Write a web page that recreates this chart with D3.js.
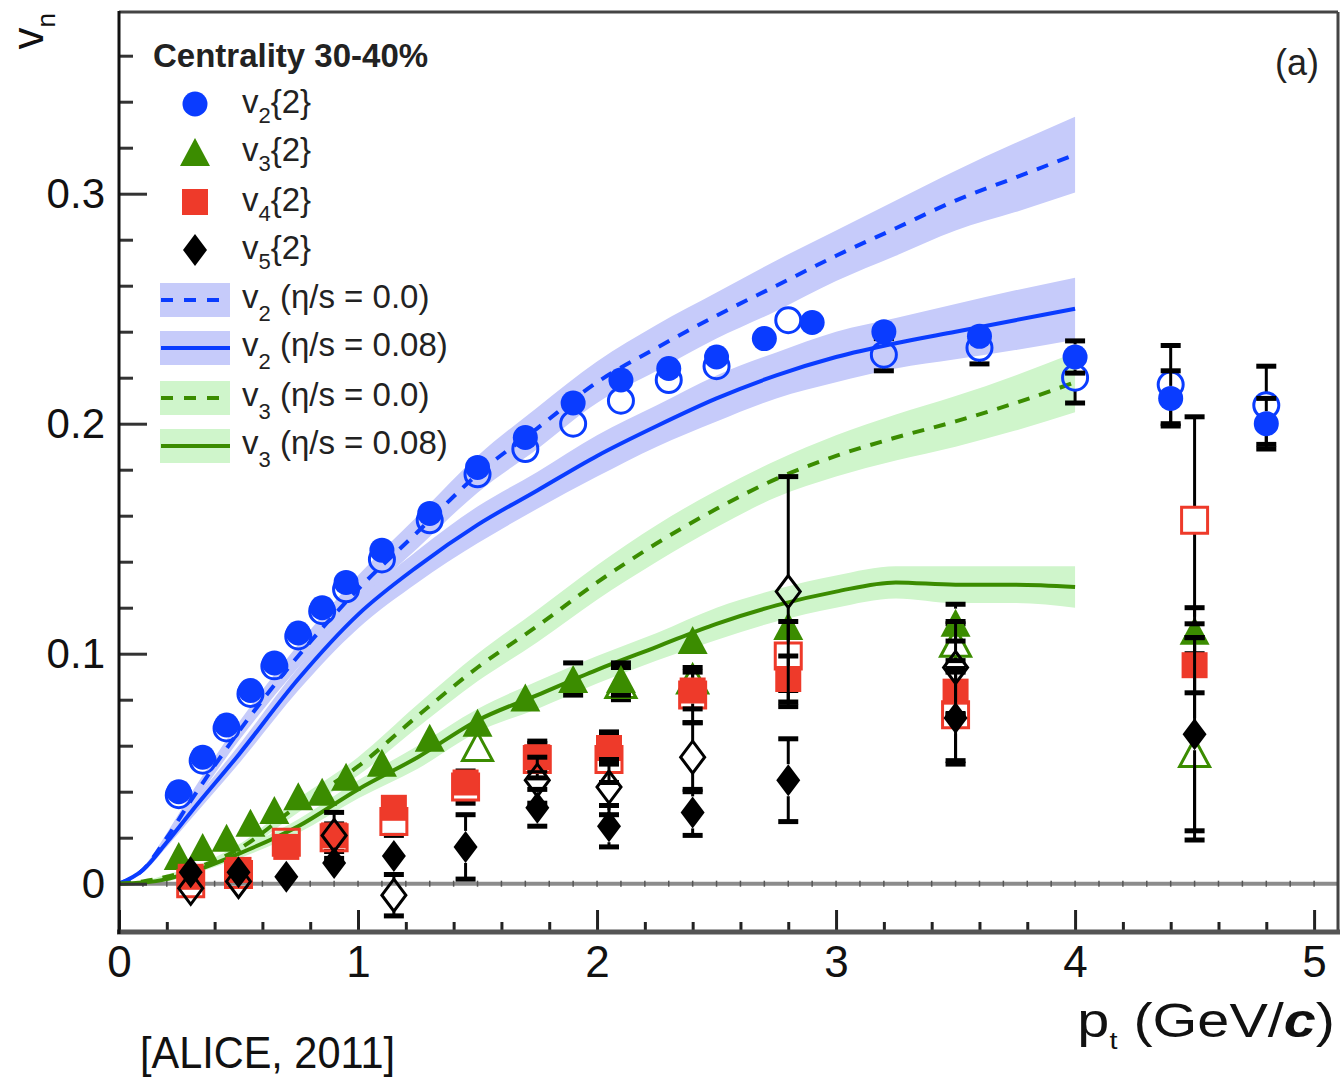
<!DOCTYPE html>
<html>
<head>
<meta charset="utf-8">
<script src="https://cdn.jsdelivr.net/npm/d3@7"></script>
<style>
  body { margin: 0; background: #fff; }
  svg { display: block; font-family: "Liberation Sans", Arial, sans-serif; }
</style>
</head>
<body>
<div id="chart"></div>
<script>
// hydro model curves (eta/s = 0.0 and 0.08), pt grid shared by all four
const modelPt     = [0, 0.1, 0.2, 0.3, 0.5, 0.75, 1.0, 1.25, 1.5, 1.75, 2.0, 2.25, 2.5, 2.75, 3.0, 3.25, 3.5, 3.75, 4.0];
const v2Ideal     = [0, 0.006, 0.02, 0.036, 0.066, 0.099, 0.128, 0.153, 0.178, 0.198, 0.218, 0.233, 0.247, 0.260, 0.273, 0.285, 0.297, 0.307, 0.317];
const v2IdealBand = [0, 0.001, 0.002, 0.003, 0.004, 0.005, 0.006, 0.007, 0.008, 0.009, 0.009, 0.010, 0.010, 0.011, 0.011, 0.012, 0.013, 0.015, 0.0165];
const v2Visc      = [0, 0.006, 0.018, 0.031, 0.056, 0.089, 0.117, 0.138, 0.156, 0.171, 0.186, 0.199, 0.211, 0.221, 0.229, 0.235, 0.240, 0.245, 0.250];
const v2ViscBand  = [0, 0.001, 0.002, 0.003, 0.004, 0.005, 0.006, 0.007, 0.008, 0.008, 0.009, 0.009, 0.010, 0.010, 0.011, 0.011, 0.012, 0.013, 0.0135];
const v3Ideal     = [0, 0.001, 0.003, 0.006, 0.015, 0.034, 0.051, 0.073, 0.094, 0.112, 0.131, 0.148, 0.163, 0.176, 0.186, 0.194, 0.201, 0.209, 0.218];
const v3IdealBand = [0, 0, 0.001, 0.001, 0.002, 0.003, 0.004, 0.005, 0.006, 0.007, 0.0075, 0.008, 0.008, 0.008, 0.009, 0.010, 0.011, 0.012, 0.013];
const v3Visc      = [0, 0.0005, 0.002, 0.005, 0.013, 0.025, 0.041, 0.055, 0.071, 0.082, 0.093, 0.103, 0.113, 0.121, 0.127, 0.131, 0.130, 0.130, 0.129];
const v3ViscBand  = [0, 0, 0.001, 0.001, 0.002, 0.003, 0.004, 0.005, 0.005, 0.006, 0.006, 0.006, 0.007, 0.007, 0.007, 0.007, 0.008, 0.008, 0.009];

// measured points: [pt, vn, error]
const v2Full = [[0.25,0.040,0.001],[0.35,0.055,0.001],[0.45,0.069,0.001],[0.55,0.084,0.001],[0.65,0.096,0.001],[0.75,0.109,0.001],[0.85,0.120,0.001],[0.95,0.131,0.001],[1.1,0.145,0.001],[1.3,0.161,0.001],[1.5,0.181,0.002],[1.7,0.194,0.002],[1.9,0.209,0.002],[2.1,0.219,0.002],[2.3,0.224,0.002],[2.5,0.229,0.002],[2.7,0.237,0.002],[2.9,0.244,0.003],[3.2,0.240,0.004],[3.6,0.238,0.005],[4.0,0.229,0.007],[4.4,0.211,0.012],[4.8,0.200,0.011]];
const v2Open = [[0.25,0.0385,0.001],[0.35,0.0535,0.001],[0.45,0.0675,0.001],[0.55,0.0825,0.001],[0.65,0.0945,0.001],[0.75,0.1075,0.001],[0.85,0.1185,0.001],[0.95,0.128,0.001],[1.1,0.141,0.001],[1.3,0.158,0.002],[1.5,0.178,0.002],[1.7,0.189,0.002],[1.9,0.200,0.003],[2.1,0.210,0.003],[2.3,0.219,0.003],[2.5,0.225,0.003],[2.8,0.245,0.004],[3.2,0.230,0.007],[3.6,0.233,0.007],[4.0,0.220,0.011],[4.4,0.217,0.017],[4.8,0.208,0.017]];
const v3Full = [[0.25,0.012,0.001],[0.35,0.016,0.001],[0.45,0.020,0.001],[0.55,0.0265,0.001],[0.65,0.032,0.001],[0.75,0.038,0.001],[0.85,0.040,0.001],[0.95,0.0465,0.002],[1.1,0.0526,0.002],[1.3,0.0635,0.002],[1.5,0.070,0.003],[1.7,0.081,0.003],[1.9,0.089,0.007],[2.1,0.089,0.007],[2.4,0.106,0.005],[2.8,0.112,0.006],[3.5,0.1135,0.008],[4.5,0.110,0.010]];
const v3Open = [[1.5,0.0596,0.003],[2.1,0.087,0.007],[2.4,0.089,0.006],[3.5,0.105,0.008],[4.5,0.057,0.038]];
const v4Full = [[0.3,0.003,0.003],[0.5,0.006,0.003],[0.7,0.016,0.004],[0.9,0.021,0.005],[1.15,0.033,0.005],[1.45,0.044,0.005],[1.75,0.055,0.006],[2.05,0.059,0.007],[2.4,0.084,0.008],[2.8,0.089,0.010],[3.5,0.0835,0.010],[4.5,0.095,0.012]];
const v4Open = [[0.3,0.000,0.004],[0.5,0.004,0.004],[0.7,0.018,0.005],[0.9,0.020,0.006],[1.15,0.027,0.006],[1.45,0.042,0.007],[1.75,0.054,0.008],[2.05,0.054,0.010],[2.4,0.082,0.012],[2.8,0.099,0.015],[3.5,0.0735,0.020],[4.5,0.158,0.045]];
const v5Full = [[0.3,0.005,0.004],[0.5,0.005,0.004],[0.7,0.003,0.004],[0.9,0.009,0.005],[1.15,0.012,0.005],[1.45,0.016,0.014],[1.75,0.033,0.008],[2.05,0.025,0.009],[2.4,0.031,0.010],[2.8,0.045,0.018],[3.5,0.072,0.020],[4.5,0.065,0.042]];
const v5Open = [[0.3,-0.002,0.005],[0.5,0.001,0.006],[0.9,0.021,0.010],[1.15,-0.005,0.009],[1.75,0.045,0.010],[2.05,0.042,0.012],[2.4,0.055,0.015],[2.8,0.127,0.050],[3.5,0.094,0.020]];

const xMajor = [0, 1, 2, 3, 4, 5];
const yMajor = [0, 0.1, 0.2, 0.3];

const width = 1343, height = 1078;
const blue = "#0a3cff", green = "#3b8c00", red = "#ee3a2a";
const blueBand = "#c6cbfa", greenBand = "#cff5cb";

const svg = d3.select("#chart")
  .append("svg")
  .attr("width", width)
  .attr("height", height);

const x = d3.scaleLinear().domain([0, 5.1]).range([119, 1338]);
const y = d3.scaleLinear().domain([-0.021, 0.379]).range([932, 12]);

// marker shapes, roughly ROOT's full/open circle, triangle, square, diamond
const shapes = {
  circle: { d: "M12.5,0A12.5,12.5 0 1,1 -12.5,0A12.5,12.5 0 1,1 12.5,0Z", half: 12.5 },
  triangle: { d: "M0,-14L15,14L-15,14Z", half: 14 },
  square: { d: "M-13,-13H13V13H-13Z", half: 13 },
  diamond: { d: "M0,-16L12,0L0,16L-12,0Z", half: 16 }
};

// model bands and lines
const models = [
  { v: v2Ideal, b: v2IdealBand, band: blueBand, color: blue, dash: "12,10" },
  { v: v2Visc, b: v2ViscBand, band: blueBand, color: blue, dash: null },
  { v: v3Ideal, b: v3IdealBand, band: greenBand, color: green, dash: "12,10" },
  { v: v3Visc, b: v3ViscBand, band: greenBand, color: green, dash: null }
];

const area = d3.area()
  .x(d => x(d[0]))
  .y0(d => y(d[1] - d[2]))
  .y1(d => y(d[1] + d[2]))
  .curve(d3.curveMonotoneX);
const line = d3.line()
  .x(d => x(d[0]))
  .y(d => y(d[1]))
  .curve(d3.curveMonotoneX);

for (let m of models) {
  svg.append("path")
    .datum(modelPt.map((p, i) => [p, m.v[i], m.b[i]]))
    .attr("fill", m.band)
    .attr("d", area);
}

// y = 0 reference line with tiny ticks
svg.append("line")
  .attr("x1", x(0)).attr("x2", 1338)
  .attr("y1", y(0)).attr("y2", y(0))
  .attr("stroke", "#8c8c8c")
  .attr("stroke-width", 4);
svg.append("g")
  .selectAll("line")
  .data(d3.range(1, 51).map(i => i / 10))
  .join("line")
  .attr("x1", d => x(d)).attr("x2", d => x(d))
  .attr("y1", y(0) - 3).attr("y2", y(0) + 3)
  .attr("stroke", "#555")
  .attr("stroke-width", 1.5);

for (let m of models) {
  svg.append("path")
    .datum(modelPt.map((p, i) => [p, m.v[i]]))
    .attr("fill", "none")
    .attr("stroke", m.color)
    .attr("stroke-width", 4)
    .attr("stroke-dasharray", m.dash)
    .attr("d", line);
}

// data series with error bars (ROOT style: bar is cut at the marker)
function drawSeries(data, shape, color, open) {
  const s = shapes[shape];
  const g = svg.append("g");
  for (let d of data) {
    const cx = x(d[0]), cy = y(d[1]);
    const top = y(d[1] + d[2]), bot = y(d[1] - d[2]);
    if (cy - top > s.half) {
      g.append("line").attr("x1", cx).attr("x2", cx).attr("y1", top).attr("y2", cy - s.half)
        .attr("stroke", "#000").attr("stroke-width", 3);
      g.append("line").attr("x1", cx).attr("x2", cx).attr("y1", cy + s.half).attr("y2", bot)
        .attr("stroke", "#000").attr("stroke-width", 3);
      g.append("line").attr("x1", cx - 10).attr("x2", cx + 10).attr("y1", top).attr("y2", top)
        .attr("stroke", "#000").attr("stroke-width", 5);
      g.append("line").attr("x1", cx - 10).attr("x2", cx + 10).attr("y1", bot).attr("y2", bot)
        .attr("stroke", "#000").attr("stroke-width", 5);
    }
  }
  g.selectAll("path")
    .data(data)
    .join("path")
    .attr("transform", d => `translate(${x(d[0])},${y(d[1])})`)
    .attr("d", s.d)
    .attr("fill", open ? "none" : color)
    .attr("stroke", open ? color : "none")
    .attr("stroke-width", 3);
}

drawSeries(v2Open, "circle", blue, true);
drawSeries(v2Full, "circle", blue, false);
drawSeries(v3Open, "triangle", green, true);
drawSeries(v3Full, "triangle", green, false);
drawSeries(v4Open, "square", red, true);
drawSeries(v4Full, "square", red, false);
drawSeries(v5Open, "diamond", "#000", true);
drawSeries(v5Full, "diamond", "#000", false);

// axes
const yAxis = svg.append("g")
  .attr("transform", "translate(119,0)")
  .call(d3.axisLeft(y).tickValues(yMajor).tickSize(-28).tickPadding(14)
    .tickFormat(d => d === 0 ? "0" : d3.format(".1f")(d)));
yAxis.select(".domain").remove();
yAxis.selectAll("text").attr("font-size", 42).attr("fill", "#111").attr("font-family", "Liberation Sans, Arial, sans-serif");
yAxis.selectAll("line").attr("stroke", "#333").attr("stroke-width", 3);

const yMinor = svg.append("g")
  .attr("transform", "translate(119,0)")
  .call(d3.axisLeft(y)
    .tickValues(d3.range(1, 19).map(i => i * 0.02).filter(v => Math.abs(v * 10 - Math.round(v * 10)) > 1e-6))
    .tickSize(-14).tickFormat(""));
yMinor.select(".domain").remove();
yMinor.selectAll("line").attr("stroke", "#333").attr("stroke-width", 3);

const xAxis = svg.append("g")
  .attr("transform", "translate(0,932)")
  .call(d3.axisBottom(x).tickValues(xMajor).tickSize(-22).tickPadding(14).tickFormat(d3.format("d")));
xAxis.select(".domain").remove();
xAxis.selectAll("text").attr("font-size", 44).attr("fill", "#111").attr("font-family", "Liberation Sans, Arial, sans-serif");
xAxis.selectAll("line").attr("stroke", "#222").attr("stroke-width", 3);

const xMinor = svg.append("g")
  .attr("transform", "translate(0,932)")
  .call(d3.axisBottom(x)
    .tickValues(d3.range(1, 26).map(i => i * 0.2).filter(v => Math.abs(v - Math.round(v)) > 1e-6))
    .tickSize(-10).tickFormat(""));
xMinor.select(".domain").remove();
xMinor.selectAll("line").attr("stroke", "#222").attr("stroke-width", 3);

// frame
svg.append("line").attr("x1", 119).attr("x2", 1338).attr("y1", 12).attr("y2", 12)
  .attr("stroke", "#444").attr("stroke-width", 3);
svg.append("line").attr("x1", 1338).attr("x2", 1338).attr("y1", 12).attr("y2", 934)
  .attr("stroke", "#444").attr("stroke-width", 3);
svg.append("line").attr("x1", 117).attr("x2", 1340).attr("y1", 932).attr("y2", 932)
  .attr("stroke", "#555").attr("stroke-width", 5);
svg.append("line").attr("x1", 119).attr("x2", 119).attr("y1", 11).attr("y2", 934)
  .attr("stroke", "#111").attr("stroke-width", 3);

// axis titles
const yTitle = svg.append("text")
  .attr("transform", "translate(43,13) rotate(-90)")
  .attr("text-anchor", "end")
  .attr("font-size", 44)
  .attr("fill", "#111");
yTitle.append("tspan").text("v");
yTitle.append("tspan").attr("font-size", 26).attr("dy", 12).text("n");

const xTitle = svg.append("text")
  .attr("transform", "translate(1335,1037) scale(1.2,1)")
  .attr("text-anchor", "end")
  .attr("font-size", 48)
  .attr("fill", "#111");
xTitle.append("tspan").text("p");
xTitle.append("tspan").attr("font-size", 24).attr("dy", 12).text("t");
xTitle.append("tspan").attr("dy", -12).text(" (GeV/");
xTitle.append("tspan").attr("font-weight", "bold").attr("font-style", "italic").text("c");
xTitle.append("tspan").text(")");

svg.append("text")
  .attr("x", 1297).attr("y", 75)
  .attr("text-anchor", "middle")
  .attr("font-size", 36)
  .attr("fill", "#222")
  .text("(a)");

svg.append("text")
  .attr("x", 140).attr("y", 1068)
  .attr("font-size", 44)
  .attr("textLength", 255)
  .attr("lengthAdjust", "spacingAndGlyphs")
  .attr("fill", "#111")
  .text("[ALICE, 2011]");

// legend
const legend = svg.append("g");
legend.append("text")
  .attr("x", 153).attr("y", 67)
  .attr("font-size", 33)
  .attr("font-weight", "bold")
  .attr("fill", "#222")
  .text("Centrality 30-40%");

const markerEntries = [
  { shape: "circle", color: blue, n: "2", y: 104 },
  { shape: "triangle", color: green, n: "3", y: 152 },
  { shape: "square", color: red, n: "4", y: 202 },
  { shape: "diamond", color: "#000", n: "5", y: 250 }
];
for (let e of markerEntries) {
  legend.append("path")
    .attr("transform", `translate(195,${e.y})`)
    .attr("d", shapes[e.shape].d)
    .attr("fill", e.color);
  const t = legend.append("text")
    .attr("x", 242).attr("y", e.y + 9)
    .attr("font-size", 33)
    .attr("fill", "#222");
  t.append("tspan").text("v");
  t.append("tspan").attr("font-size", 22).attr("dy", 10).text(e.n);
  t.append("tspan").attr("dy", -10).text("{2}");
}

const lineEntries = [
  { color: blue, band: blueBand, dash: "12,11", n: "2", label: " (η/s = 0.0)", y: 300 },
  { color: blue, band: blueBand, dash: null, n: "2", label: " (η/s = 0.08)", y: 348 },
  { color: green, band: greenBand, dash: "12,11", n: "3", label: " (η/s = 0.0)", y: 398 },
  { color: green, band: greenBand, dash: null, n: "3", label: " (η/s = 0.08)", y: 446 }
];
for (let e of lineEntries) {
  legend.append("rect")
    .attr("x", 160).attr("y", e.y - 17)
    .attr("width", 70).attr("height", 34)
    .attr("fill", e.band);
  legend.append("line")
    .attr("x1", 161).attr("x2", 230)
    .attr("y1", e.y).attr("y2", e.y)
    .attr("stroke", e.color)
    .attr("stroke-width", 4)
    .attr("stroke-dasharray", e.dash);
  const t = legend.append("text")
    .attr("x", 242).attr("y", e.y + 8)
    .attr("font-size", 33)
    .attr("fill", "#222");
  t.append("tspan").text("v");
  t.append("tspan").attr("font-size", 22).attr("dy", 13).text(e.n);
  t.append("tspan").attr("dy", -13).text(e.label);
}
</script>
</body>
</html>
